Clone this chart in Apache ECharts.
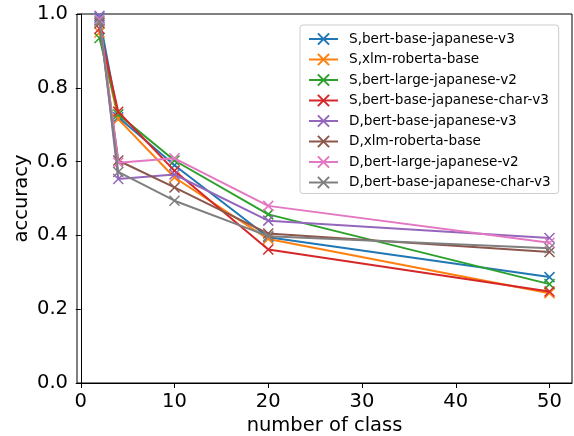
<!DOCTYPE html>
<html>
<head>
<meta charset="utf-8">
<script src="https://cdn.jsdelivr.net/npm/echarts@6/dist/echarts.min.js"></script>
<style>html,body{margin:0;padding:0;background:#fff}#c{width:574px;height:436px}</style>
</head>
<body>
<div id="c"></div>
<script>
const classes = [2, 4, 10, 20, 50];
const seriesNames = [
  'S,bert-base-japanese-v3',
  'S,xlm-roberta-base',
  'S,bert-large-japanese-v2',
  'S,bert-base-japanese-char-v3',
  'D,bert-base-japanese-v3',
  'D,xlm-roberta-base',
  'D,bert-large-japanese-v2',
  'D,bert-base-japanese-char-v3'
];
const sBertBase = [0.99, 0.72, 0.59, 0.395, 0.287];
const sXlm = [0.95, 0.715, 0.557, 0.39, 0.243];
const sBertLarge = [0.935, 0.728, 0.603, 0.457, 0.268];
const sBertChar = [0.96, 0.735, 0.575, 0.362, 0.248];
const dBertBase = [0.995, 0.553, 0.565, 0.44, 0.393];
const dXlm = [0.975, 0.603, 0.53, 0.405, 0.355];
const dBertLarge = [0.985, 0.597, 0.609, 0.48, 0.38];
const dBertChar = [0.98, 0.572, 0.494, 0.398, 0.365];
const xTicks = [0, 10, 20, 30, 40, 50];
const yTicks = [0, 0.2, 0.4, 0.6, 0.8, 1.0];

const allValues = [sBertBase, sXlm, sBertLarge, sBertChar, dBertBase, dXlm, dBertLarge, dBertChar];
const colors = ['#1f77b4', '#ff7f0e', '#2ca02c', '#d62728', '#9467bd', '#8c564b', '#e377c2', '#7f7f7f'];
const xSym = 'path://M0,0L10,10M10,0L0,10';
const font = 'DejaVu Sans';

const chart = echarts.init(document.getElementById('c'), null, {renderer: 'canvas'});
chart.setOption({
  animation: false,
  backgroundColor: '#fff',
  grid: {left: 77, right: 2, top: 14, bottom: 53, outerBoundsMode: 'none', containLabel: false,
         show: true, borderColor: '#000', borderWidth: 1, backgroundColor: 'transparent'},
  xAxis: {
    type: 'value', min: -0.4, max: 52.4,
    name: 'number of class', nameLocation: 'middle', nameGap: 33, nameMoveOverlap: false,
    nameTextStyle: {fontFamily: font, fontSize: 19.5, color: '#000'},
    axisLine: {show: true, lineStyle: {color: '#000', width: 1}},
    axisTick: {show: true, inside: false, length: 5, lineStyle: {color: '#000'}, customValues: xTicks},
    axisLabel: {fontFamily: font, fontSize: 19.5, color: '#000', margin: 9, customValues: xTicks},
    splitLine: {show: false}
  },
  yAxis: {
    type: 'value', min: 0, max: 1,
    name: 'accuracy', nameLocation: 'middle', nameGap: 45, nameRotate: 90, nameMoveOverlap: false,
    nameTextStyle: {fontFamily: font, fontSize: 19.5, color: '#000'},
    axisLine: {show: true, lineStyle: {color: '#000', width: 1}},
    axisTick: {show: true, inside: false, length: 5, lineStyle: {color: '#000'}, customValues: yTicks},
    axisLabel: {fontFamily: font, fontSize: 19.5, color: '#000', margin: 9, customValues: yTicks, formatter: v => v.toFixed(1)},
    splitLine: {show: false}
  },
  legend: {
    orient: 'vertical', left: 300, top: 25,
    padding: [7, 8, 4, 8],
    backgroundColor: 'rgba(255,255,255,0.8)',
    borderColor: '#cccccc', borderWidth: 1, borderRadius: 3,
    itemWidth: 29, itemHeight: 14, itemGap: 6.5,
    textStyle: {fontFamily: font, fontSize: 13.6, color: '#000', padding: [0, 0, 0, 6], lineHeight: 14},
    data: seriesNames
  },
  series: seriesNames.map((n, i) => ({
    name: n, type: 'line',
    data: classes.map((c, j) => [c, allValues[i][j]]),
    symbol: xSym, symbolSize: 10,
    showAllSymbol: true,
    lineStyle: {color: colors[i], width: 2},
    itemStyle: {color: colors[i], borderColor: colors[i], borderWidth: 1.5},
    emphasis: {disabled: true},
    z: 2 + i
  }))
});
</script>
</body>
</html>
